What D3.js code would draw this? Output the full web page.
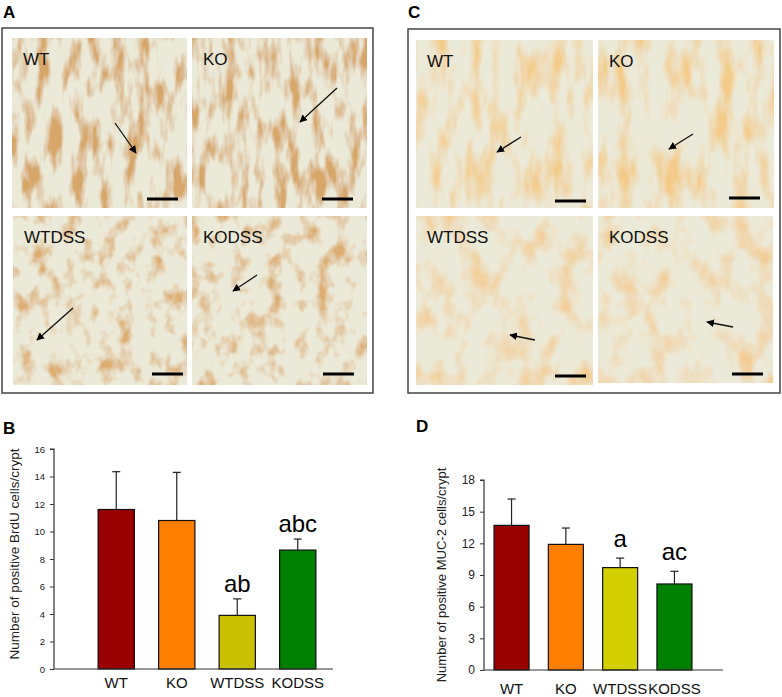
<!DOCTYPE html>
<html>
<head>
<meta charset="utf-8">
<script src="https://cdn.jsdelivr.net/npm/d3@7"></script>
<style>
  body { margin: 0; background: #fff; }
  text { font-family: "Liberation Sans", Arial, sans-serif; }
</style>
</head>
<body>
<div id="wrapper"></div>
<script>
// group names, used by both bar charts and the micrograph tiles
const groups = ["WT", "KO", "WTDSS", "KODSS"];
const barColorsB = ["#990000", "#ff8000", "#c8c000", "#008000"];
const barColorsD = ["#990000", "#ff8000", "#d4d000", "#008000"];

// panel B : BrdU positive cells per crypt
const brduMean = [11.6, 10.8, 3.9, 8.65];
const brduSd = [2.75, 3.5, 1.2, 0.8];
const brduLetters = ["", "", "ab", "abc"];
const brduTicks = [0, 2, 4, 6, 8, 10, 12, 14, 16];

// panel D : MUC-2 positive cells per crypt
const mucMean = [13.7, 11.9, 9.7, 8.15];
const mucSd = [2.5, 1.55, 0.9, 1.2];
const mucLetters = ["", "", "a", "ac"];
const mucTicks = [0, 3, 6, 9, 12, 15, 18];

const width = 782, height = 697;

const svg = d3.select("#wrapper")
    .append("svg")
    .attr("width", width)
    .attr("height", height)

// texture filters for the stained tissue pictures
const defs = svg.append("defs")
function tissueFilter(id, freq, seed, rgb, gain, cut) {
    const f = defs.append("filter").attr("id", id)
        .attr("x", 0).attr("y", 0).attr("width", 1).attr("height", 1)
    f.append("feTurbulence").attr("type", "fractalNoise")
        .attr("baseFrequency", freq).attr("numOctaves", 3).attr("seed", seed).attr("result", "n")
    f.append("feColorMatrix").attr("in", "n").attr("type", "matrix")
        .attr("values", `0 0 0 0 ${rgb[0]}  0 0 0 0 ${rgb[1]}  0 0 0 0 ${rgb[2]}  ${gain} 0 0 0 ${cut}`)
        .attr("result", "stain")
    f.append("feFlood").attr("flood-color", "#ebe9d7").attr("result", "bg")
    const m = f.append("feMerge")
    m.append("feMergeNode").attr("in", "bg")
    m.append("feMergeNode").attr("in", "stain")
}
tissueFilter("brdu", "0.08 0.025", 4, [0.68, 0.38, 0.14], 3.6, -1.6)
tissueFilter("brduDss", "0.06 0.045", 9, [0.72, 0.42, 0.16], 3.2, -1.55)
tissueFilter("muc", "0.06 0.02", 2, [0.9, 0.6, 0.25], 3.0, -1.35)
tissueFilter("mucDss", "0.045 0.03", 7, [0.9, 0.6, 0.28], 2.8, -1.3)

defs.append("marker").attr("id", "head")
    .attr("viewBox", "0 0 10 10").attr("refX", 9).attr("refY", 5)
    .attr("markerWidth", 6).attr("markerHeight", 6).attr("orient", "auto")
    .append("path").attr("d", "M0,0L10,5L0,10z").attr("fill", "#000")

// ---------- micrograph panels A and C ----------
const tilesA = [
    {x: 12, y: 38, w: 175, h: 170, f: "brdu", arrow: [115, 123, 136, 153], bar: [147, 178, 199]},
    {x: 192, y: 38, w: 175, h: 170, f: "brdu", arrow: [337, 88, 300, 122], bar: [322, 353, 199]},
    {x: 13, y: 216, w: 174, h: 169, f: "brduDss", arrow: [73, 308, 37, 340], bar: [152, 183, 374]},
    {x: 192, y: 216, w: 175, h: 169, f: "brduDss", arrow: [257, 275, 233, 291], bar: [323, 354, 374]},
]
const tilesC = [
    {x: 416, y: 40, w: 177, h: 168, f: "muc", arrow: [521, 137, 497, 152], bar: [555, 586, 201]},
    {x: 598, y: 40, w: 176, h: 168, f: "muc", arrow: [693, 134, 669, 149], bar: [729, 760, 198]},
    {x: 416, y: 216, w: 177, h: 169, f: "mucDss", arrow: [535, 340, 510, 335], bar: [555, 586, 376]},
    {x: 598, y: 216, w: 175, h: 167, f: "mucDss", arrow: [733, 327, 707, 322], bar: [732, 763, 374]},
]

function drawMicro(box, tiles, labelDx) {
    svg.append("rect")
        .attr("x", box[0]).attr("y", box[1]).attr("width", box[2]).attr("height", box[3])
        .attr("fill", "#fff").attr("stroke", "#444").attr("stroke-width", 1.5)
    tiles.forEach((t, i) => {
        const g = svg.append("g")
        g.append("rect").attr("x", t.x).attr("y", t.y).attr("width", t.w).attr("height", t.h)
            .attr("fill", "#ebe9d7").attr("filter", `url(#${t.f})`)
        g.append("text").attr("x", t.x + labelDx).attr("y", t.y + 27)
            .attr("font-size", 17).attr("fill", "#111").text(groups[i])
        g.append("line")
            .attr("x1", t.arrow[0]).attr("y1", t.arrow[1]).attr("x2", t.arrow[2]).attr("y2", t.arrow[3])
            .attr("stroke", "#111").attr("stroke-width", 1.3).attr("marker-end", "url(#head)")
        g.append("line")
            .attr("x1", t.bar[0]).attr("x2", t.bar[1]).attr("y1", t.bar[2]).attr("y2", t.bar[2])
            .attr("stroke", "#000").attr("stroke-width", 3)
    })
}
drawMicro([2, 28, 371, 365], tilesA, 11)
drawMicro([408, 29, 372, 364], tilesC, 11)

// panel letters
const letters = [["A", 3, 18], ["C", 408, 18], ["B", 3, 434], ["D", 416, 432]]
svg.selectAll(".panel").data(letters).enter().append("text")
    .attr("x", d => d[1]).attr("y", d => d[2])
    .attr("font-size", 17).attr("font-weight", "bold").text(d => d[0])

// ---------- bar charts B and D ----------
function drawBars(o) {
    const yScaler = d3.scaleLinear().domain(o.domain).range([o.bottom, o.top])
    const xScaler = d3.scaleBand().domain(groups).range(o.xr)
        .paddingInner(o.pi).paddingOuter(o.po)

    const g = svg.append("g")

    // error bars (upper only)
    const eb = g.selectAll(".eb").data(groups).enter().append("g")
    eb.append("line")
        .attr("x1", d => xScaler(d) + xScaler.bandwidth() / 2)
        .attr("x2", d => xScaler(d) + xScaler.bandwidth() / 2)
        .attr("y1", (d, i) => yScaler(o.mean[i]))
        .attr("y2", (d, i) => yScaler(o.mean[i] + o.sd[i]))
        .attr("stroke", "#222").attr("stroke-width", 1.2)
    eb.append("line")
        .attr("x1", d => xScaler(d) + xScaler.bandwidth() / 2 - 4)
        .attr("x2", d => xScaler(d) + xScaler.bandwidth() / 2 + 4)
        .attr("y1", (d, i) => yScaler(o.mean[i] + o.sd[i]))
        .attr("y2", (d, i) => yScaler(o.mean[i] + o.sd[i]))
        .attr("stroke", "#222").attr("stroke-width", 1.2)

    g.selectAll(".bar").data(groups).enter().append("rect")
        .attr("x", d => xScaler(d))
        .attr("y", (d, i) => yScaler(o.mean[i]))
        .attr("width", xScaler.bandwidth())
        .attr("height", (d, i) => yScaler(0) - yScaler(o.mean[i]))
        .attr("fill", (d, i) => o.colors[i])
        .attr("stroke", "#111").attr("stroke-width", 1.2)

    // significance letters
    g.selectAll(".sig").data(groups).enter().append("text")
        .attr("x", d => xScaler(d) + xScaler.bandwidth() / 2)
        .attr("y", (d, i) => yScaler(o.mean[i] + o.sd[i]) - o.letterGap)
        .attr("text-anchor", "middle").attr("font-size", o.letterSize)
        .text((d, i) => o.letters[i])

    // y axis
    const yAxis = g.append("g")
        .attr("transform", `translate(${o.axisX},0)`)
        .call(d3.axisLeft(yScaler).tickValues(o.ticks).tickSize(4).tickPadding(5))
    yAxis.select(".domain").attr("stroke", "#333").attr("stroke-width", 1.2)
        .attr("d", `M-4,${o.top}H0V${o.bottom}`)
    yAxis.selectAll(".tick line").attr("stroke", "#333")
    yAxis.selectAll(".tick text").attr("font-size", o.tickSize).attr("fill", "#222")
        .style("font-family", "'Liberation Sans', Arial, sans-serif")

    // x axis line and category labels
    g.append("line")
        .attr("x1", o.axisX).attr("x2", o.xEnd)
        .attr("y1", yScaler(0)).attr("y2", yScaler(0))
        .attr("stroke", "#333").attr("stroke-width", 1.2)
    g.selectAll(".xl").data(groups).enter().append("text")
        .attr("x", d => xScaler(d) + xScaler.bandwidth() / 2)
        .attr("y", o.labelY)
        .attr("text-anchor", "middle").attr("font-size", o.xlSize).attr("fill", "#111")
        .text(d => d)

    g.append("text")
        .attr("transform", `translate(${o.titleX},${o.titleY}) rotate(-90)`)
        .attr("text-anchor", "middle").attr("font-size", o.titleSize).attr("fill", "#222")
        .text(o.title)
}

drawBars({
    domain: [0, 16], top: 449, bottom: 669, ticks: brduTicks,
    xr: [86, 328], pi: 0.4, po: 0.2, axisX: 54, xEnd: 333,
    mean: brduMean, sd: brduSd, letters: brduLetters, colors: barColorsB,
    letterGap: 7, letterSize: 24, tickSize: 9.5, xlSize: 15, labelY: 688,
    title: "Number of positive BrdU cells/crypt", titleX: 19, titleY: 554, titleSize: 13.5
})

drawBars({
    domain: [0, 18], top: 480, bottom: 670, ticks: mucTicks,
    xr: [488.6, 697.4], pi: 0.355, po: 0.1, axisX: 484, xEnd: 723,
    mean: mucMean, sd: mucSd, letters: mucLetters, colors: barColorsD,
    letterGap: 11, letterSize: 24, tickSize: 12, xlSize: 15, labelY: 694,
    title: "Number of positive MUC-2 cells/crypt", titleX: 446, titleY: 575, titleSize: 13
})
</script>
</body>
</html>
